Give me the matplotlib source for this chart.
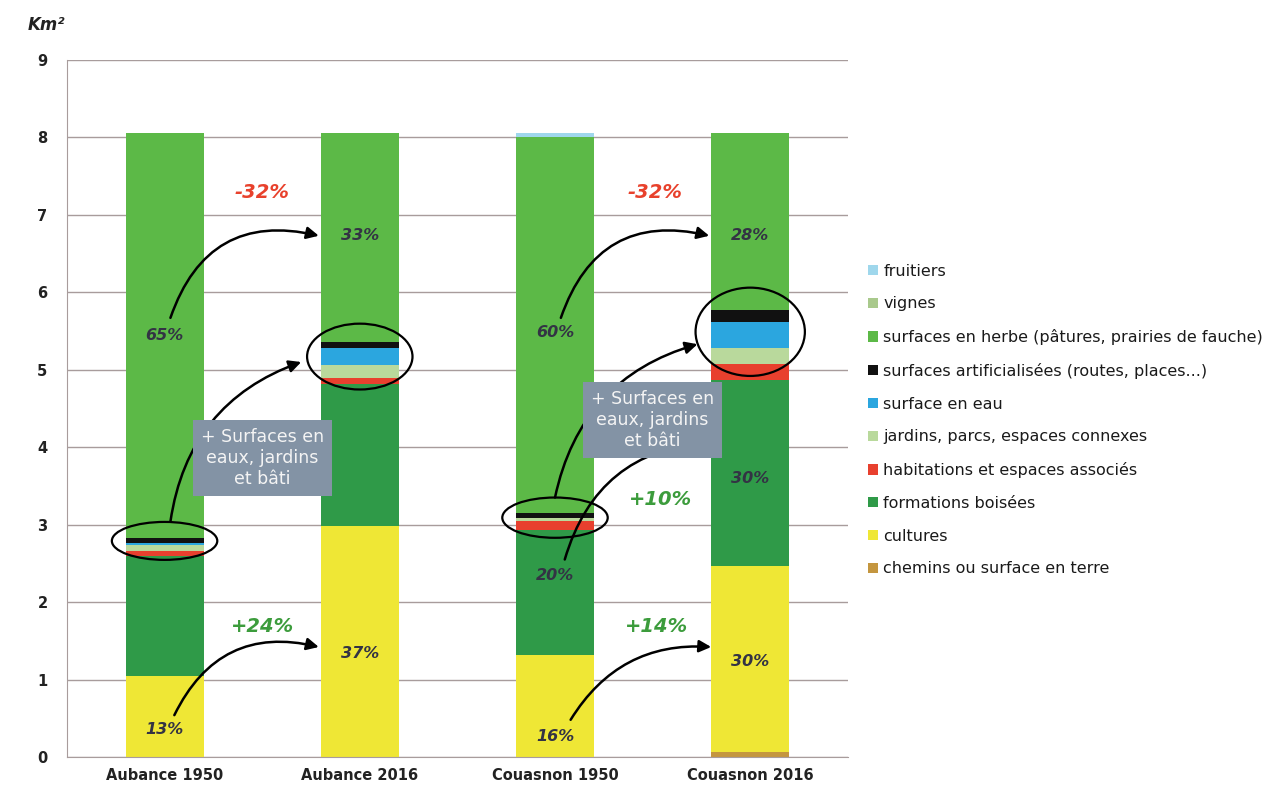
import matplotlib.pyplot as plt
from matplotlib.patches import Ellipse

# bars (km2)
sites = ['Aubance 1950', 'Aubance 2016', 'Couasnon 1950', 'Couasnon 2016']
chemins = [0.0, 0.0, 0.0, 0.07]
cultures = [1.05, 2.98, 1.32, 2.40]
boisees = [1.55, 1.83, 1.61, 2.40]
habitations = [0.06, 0.08, 0.12, 0.20]
jardins = [0.08, 0.17, 0.03, 0.21]
eau = [0.02, 0.22, 0.0, 0.34]
artificiel = [0.07, 0.08, 0.07, 0.15]
herbe = [5.23, 2.70, 4.85, 2.29]
vignes = [0.0, 0.0, 0.0, 0.0]
fruitiers = [0.0, 0.0, 0.06, 0.0]

series = [
    ('chemins ou surface en terre', chemins, '#c4963f'),
    ('cultures', cultures, '#efe735'),
    ('formations boisées', boisees, '#2f9a48'),
    ('habitations et espaces associés', habitations, '#e8402e'),
    ('jardins, parcs, espaces connexes', jardins, '#b9d99c'),
    ('surface en eau', eau, '#2ba6df'),
    ('surfaces artificialisées (routes, places...)', artificiel, '#111111'),
    ('surfaces en herbe (pâtures, prairies de fauche)', herbe, '#5cb947'),
    ('vignes', vignes, '#a9c98c'),
    ('fruitiers', fruitiers, '#9fd7ec'),
]

pct_labels = [
    (0, 5.44, '65%'), (0, 0.35, '13%'),
    (1, 6.73, '33%'), (1, 1.33, '37%'),
    (2, 5.48, '60%'), (2, 2.34, '20%'), (2, 0.26, '16%'),
    (3, 6.73, '28%'), (3, 3.59, '30%'), (3, 1.23, '30%'),
]
change_labels = [
    (0.5, 7.29, '-32%', '#e8412c'), (2.51, 7.29, '-32%', '#e8412c'),
    (0.5, 1.68, '+24%', '#3c9c3c'), (2.52, 1.68, '+14%', '#3c9c3c'),
    (2.54, 3.32, '+10%', '#3c9c3c'),
]

fig = plt.figure(figsize=(12.78, 7.89), dpi=100)
ax = fig.add_axes([0.0524, 0.0406, 0.611, 0.8834])

x = list(range(len(sites)))
bottom = [0.0] * len(sites)
for name, vals, col in series:
    ax.bar(x, vals, width=0.4, bottom=bottom, color=col, label=name, zorder=2)
    bottom = [b + v for b, v in zip(bottom, vals)]

ax.set_xlim(-0.5, 3.5)
ax.set_ylim(0, 9)
ax.set_yticks(range(10))
ax.set_xticks(x)
ax.set_xticklabels(sites)
ax.tick_params(axis='both', length=0, labelsize=10.5, colors='#222222', pad=8)
ax.tick_params(axis='y', pad=14)
for lab in ax.get_xticklabels() + ax.get_yticklabels():
    lab.set_fontweight('bold')
ax.grid(axis='y', color='#a89c9c', linewidth=1, zorder=0)
for s in ['top', 'right']:
    ax.spines[s].set_visible(False)
ax.spines['left'].set_color('#a89c9c')
ax.spines['bottom'].set_color('#a89c9c')

fig.text(0.022, 0.962, 'Km²', fontsize=12, fontweight='bold', style='italic', color='#222222')

# percentage labels
for xi, yi, t in pct_labels:
    ax.text(xi, yi, t, ha='center', va='center', fontsize=11.5, fontweight='bold',
            style='italic', color='#333344', zorder=5)
for xi, yi, t, c in change_labels:
    ax.text(xi, yi, t, ha='center', va='center', fontsize=14, fontweight='bold',
            style='italic', color=c, zorder=5)

# ellipses around small categories
for xc, yc, w, h in [(0, 2.79, 0.54, 0.49), (1, 5.17, 0.54, 0.85),
                     (2, 3.09, 0.54, 0.52), (3, 5.49, 0.56, 1.14)]:
    ax.add_patch(Ellipse((xc, yc), w, h, fill=False, edgecolor='black', lw=1.6, zorder=6))

# curved arrows
arrows = [
    ((0.03, 5.67), (0.79, 6.73), -0.45),
    ((0.03, 3.04), (0.70, 5.10), -0.30),
    ((0.05, 0.54), (0.79, 1.42), -0.40),
    ((2.03, 5.67), (2.79, 6.73), -0.45),
    ((2.0, 3.35), (2.73, 5.33), -0.30),
    ((2.05, 2.55), (2.80, 4.06), -0.35),
    ((2.08, 0.48), (2.80, 1.42), -0.30),
]
for (x0, y0), (x1, y1), rad in arrows:
    ax.annotate('', xy=(x1, y1), xytext=(x0, y0),
                arrowprops=dict(arrowstyle='-|>', color='black', lw=1.8,
                                mutation_scale=18, shrinkA=0, shrinkB=0,
                                connectionstyle=f'arc3,rad={rad}'), zorder=4)

# grey boxes
for xb, yb in [(0.5, 3.86), (2.5, 4.35)]:
    ax.text(xb, yb, '+ Surfaces en\neaux, jardins\net bâti', ha='center', va='center',
            fontsize=12.5, color='#f4f4f4', linespacing=1.2, zorder=7,
            bbox=dict(boxstyle='square,pad=0.45', facecolor='#8393a5', edgecolor='none'))

handles, labels = ax.get_legend_handles_labels()
leg = fig.legend(handles[::-1], labels[::-1], loc='upper left', bbox_to_anchor=(0.668, 0.684),
                 frameon=False, fontsize=11.5, handlelength=0.6, handleheight=0.6,
                 handletextpad=0.35, labelspacing=1.11)
for t in leg.get_texts():
    t.set_color('#1a1a1a')

fig.savefig('out.png', dpi=100)
